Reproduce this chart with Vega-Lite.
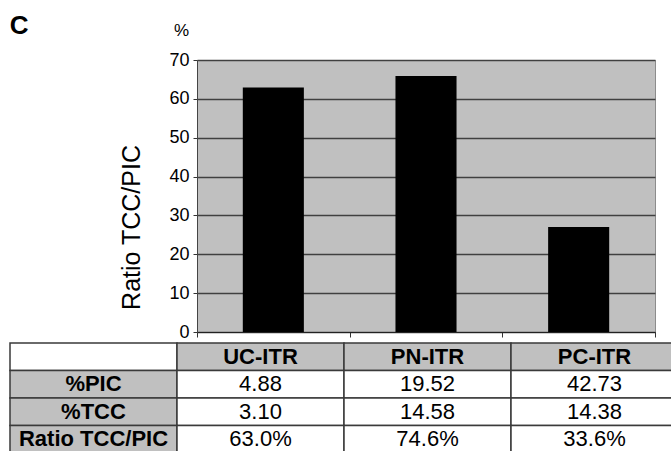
{
  "$schema": "https://vega.github.io/schema/vega-lite/v6.json",
  "padding": {"left": 8, "top": 12, "right": 0, "bottom": 0},
  "background": "white",
  "title": {"text": "C", "anchor": "start", "frame": "bounds", "fontSize": 26, "fontWeight": "bold", "color": "black", "offset": -17, "dx": 1},
  "config": {
    "font": "Liberation Sans",
    "view": {"fill": "#c0c0c0", "stroke": "#8c8c8c", "strokeWidth": 1},
    "concat": {"spacing": 0}
  },
  "datasets": {
    "bars": [
      {"group": "UC-ITR", "ratio": 62.9},
      {"group": "PN-ITR", "ratio": 65.9},
      {"group": "PC-ITR", "ratio": 27.0}
    ],
    "cells": [
      {"row": "hdr", "col": "lbl", "text": "", "kind": "blank"},
      {"row": "hdr", "col": "UC-ITR", "text": "UC-ITR", "kind": "head"},
      {"row": "hdr", "col": "PN-ITR", "text": "PN-ITR", "kind": "head"},
      {"row": "hdr", "col": "PC-ITR", "text": "PC-ITR", "kind": "head"},
      {"row": "%PIC", "col": "lbl", "text": "%PIC", "kind": "head"},
      {"row": "%PIC", "col": "UC-ITR", "text": "4.88", "kind": "value"},
      {"row": "%PIC", "col": "PN-ITR", "text": "19.52", "kind": "value"},
      {"row": "%PIC", "col": "PC-ITR", "text": "42.73", "kind": "value"},
      {"row": "%TCC", "col": "lbl", "text": "%TCC", "kind": "head"},
      {"row": "%TCC", "col": "UC-ITR", "text": "3.10", "kind": "value"},
      {"row": "%TCC", "col": "PN-ITR", "text": "14.58", "kind": "value"},
      {"row": "%TCC", "col": "PC-ITR", "text": "14.38", "kind": "value"},
      {"row": "ratio", "col": "lbl", "text": "Ratio TCC/PIC", "kind": "head"},
      {"row": "ratio", "col": "UC-ITR", "text": "63.0%", "kind": "value"},
      {"row": "ratio", "col": "PN-ITR", "text": "74.6%", "kind": "value"},
      {"row": "ratio", "col": "PC-ITR", "text": "33.6%", "kind": "value"}
    ]
  },
  "vconcat": [
    {
      "width": 458,
      "height": 272,
      "title": {"text": "%", "anchor": "start", "frame": "group", "fontSize": 17, "fontWeight": "normal", "color": "black", "dx": -23, "offset": 11},
      "resolve": {"scale": {"x": "independent", "y": "independent"}, "axis": {"x": "independent", "y": "independent"}},
      "layer": [
        {
          "data": {"name": "bars"},
          "mark": {"type": "bar", "color": "black", "width": {"band": 0.4}},
          "encoding": {
            "x": {
              "field": "group", "type": "nominal", "sort": ["UC-ITR", "PN-ITR", "PC-ITR"],
              "scale": {"paddingInner": 0, "paddingOuter": 0},
              "axis": {"labels": false, "title": null, "tickBand": "extent", "tickSize": 5, "tickColor": "#333", "domainColor": "#222", "domainWidth": 1.2, "grid": false}
            },
            "y": {
              "field": "ratio", "type": "quantitative",
              "scale": {"domain": [0, 70], "nice": false},
              "axis": {
                "values": [0, 10, 20, 30, 40, 50, 60, 70],
                "labelFontSize": 18, "labelColor": "black", "labelPadding": 4,
                "tickSize": 4, "tickColor": "#333", "domainColor": "#444",
                "grid": true, "gridColor": "#404040", "gridWidth": 1.3, "gridOpacity": 1,
                "title": "Ratio TCC/PIC", "titleFontSize": 25, "titleFontWeight": "normal", "titleColor": "black",
                "titleX": -53, "titleY": 167, "titleAlign": "center", "titleBaseline": "bottom", "titleAngle": -90
              }
            }
          }
        },
        {
          "data": {"name": "cells"},
          "mark": {"type": "rect", "stroke": "#3a3a3a", "strokeWidth": 1.5},
          "encoding": {
            "x": {"field": "col", "type": "nominal", "scale": {"domain": ["lbl", "UC-ITR", "PN-ITR", "PC-ITR"], "range": [-187, 481], "paddingInner": 0, "paddingOuter": 0}, "axis": null},
            "y": {"field": "row", "type": "nominal", "scale": {"domain": ["hdr", "%PIC", "%TCC", "ratio"], "range": [283, 393], "paddingInner": 0, "paddingOuter": 0}, "axis": null},
            "fill": {"field": "kind", "type": "nominal", "scale": {"domain": ["blank", "head", "value"], "range": ["white", "#c0c0c0", "white"]}, "legend": null}
          }
        },
        {
          "data": {"name": "cells"},
          "transform": [{"filter": "datum.kind === 'head'"}],
          "mark": {"type": "text", "fontSize": 22, "fontWeight": "bold", "color": "black", "baseline": "middle", "align": "center"},
          "encoding": {
            "x": {"field": "col", "type": "nominal", "scale": {"domain": ["lbl", "UC-ITR", "PN-ITR", "PC-ITR"], "range": [-187, 481], "paddingInner": 0, "paddingOuter": 0}, "axis": null},
            "y": {"field": "row", "type": "nominal", "scale": {"domain": ["hdr", "%PIC", "%TCC", "ratio"], "range": [283, 393], "paddingInner": 0, "paddingOuter": 0}, "axis": null},
            "text": {"field": "text"}
          }
        },
        {
          "data": {"name": "cells"},
          "transform": [{"filter": "datum.kind === 'value'"}],
          "mark": {"type": "text", "fontSize": 22, "fontWeight": "normal", "color": "black", "baseline": "middle", "align": "center"},
          "encoding": {
            "x": {"field": "col", "type": "nominal", "scale": {"domain": ["lbl", "UC-ITR", "PN-ITR", "PC-ITR"], "range": [-187, 481], "paddingInner": 0, "paddingOuter": 0}, "axis": null},
            "y": {"field": "row", "type": "nominal", "scale": {"domain": ["hdr", "%PIC", "%TCC", "ratio"], "range": [283, 393], "paddingInner": 0, "paddingOuter": 0}, "axis": null},
            "text": {"field": "text"}
          }
        }
      ]
    }
  ]
}
